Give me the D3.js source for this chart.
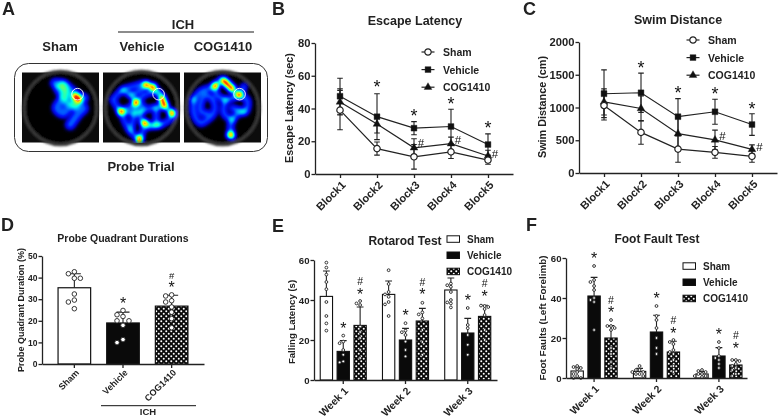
<!DOCTYPE html>
<html>
<head>
<meta charset="utf-8">
<script src="https://cdn.jsdelivr.net/npm/d3@7"></script>
<style>
  body { margin: 0; background: #fff; }
  svg { display: block; }
  text { font-family: "Liberation Sans", Arial, sans-serif; font-weight: bold; fill: #222; }
  .mark { font-weight: normal; fill: #111; }
  .axis path, .axis line { stroke: #222; stroke-width: 1.3; }
  .axis text { fill: #222; }
</style>
</head>
<body>
<svg id="chart" width="778" height="417"></svg>
<script>
const groups = ["Sham", "Vehicle", "COG1410"];
const blocks = ["Block1", "Block2", "Block3", "Block4", "Block5"];
const weeks = ["Week 1", "Week 2", "Week 3"];

// Panel A, tracks (in crop units)
const trailsSham = [
  [[105,40],[130,45],[150,60],[175,80],[190,85]],
  [[130,45],[135,75],[110,115],[130,130],[150,110],[190,115],[175,130],[150,165]],
  [[115,55],[140,90],[165,105]]
];
const hotSham = [[175,88,0.75],[175,88,0.55],[165,80,0.2]];
const trailsVehicle = [
  [[35,90],[65,60],[95,50],[125,42],[155,52],[185,85],[190,110],[215,130],[205,150],[175,165],[130,175],[115,205],[85,180],[60,130],[35,90]],
  [[60,125],[105,100],[130,75],[165,68],[185,85]],
  [[105,100],[100,130],[90,180]],
  [[60,125],[100,130],[150,115],[190,110]],
  [[125,105],[120,150],[150,165],[175,165]],
  [[165,115],[165,165]],
  [[65,60],[90,75],[125,55]],
  [[90,75],[105,100]]
];
const hotVehicle = [[155,52,0.6],[190,105,0.7],[183,90,0.35],[212,130,0.4],[115,207,0.35],[105,98,0.25],[60,125,0.12],[130,160,0.15],[135,45,0.15]];
const trailsCog = [
  [[35,90],[55,65],[95,50],[120,30],[150,55],[170,75],[195,90],[190,125],[170,130],[150,150],[145,170],[150,200]],
  [[185,50],[175,75]],
  [[35,90],[35,130],[55,160],[75,150],[95,130],[95,95],[70,75],[55,110],[60,130],[75,130]],
  [[95,50],[105,75],[130,90],[150,85],[170,75]],
  [[130,90],[125,130],[150,150]],
  [[150,115],[185,125]]
];
const hotCog = [[125,33,0.6],[135,43,0.7],[148,55,0.45],[170,75,0.3],[145,195,0.1],[100,48,0.15]];
const targetRing = [172, 73];

// Panel B
const latencySham = [39, 15.5, 10.5, 13.5, 8.5];
const latencyShamErr = [12, 4, 7.5, 4, 2.5];
const latencyVehicle = [47.5, 35, 28, 29, 18];
const latencyVehicleErr = [11, 14, 4, 10.5, 6.5];
const latencyCog = [44, 30.5, 16, 18.5, 11];
const latencyCogErr = [8, 5.5, 5.5, 4, 3.5];
const latencyStars = [null, 54.8, 37.3, 44.8, 30.1];
const latencyHash = [null, null, 19, 21, 12.6];

// Panel C
const distanceSham = [1030, 620, 365, 315, 255];
const distanceShamErr = [220, 180, 200, 90, 90];
const distanceVehicle = [1210, 1225, 860, 935, 740];
const distanceVehicleErr = [365, 300, 275, 190, 165];
const distanceCog = [1085, 985, 600, 505, 360];
const distanceCogErr = [200, 190, 240, 150, 70];
const distanceStars = [null, 1654, 1272, 1252, 1028];
const distanceHash = [null, null, null, 565, 392];

// Panel D
const probeMeans = [35.3, 19, 26.8];
const probeErr = [6.5, 5, 5];
const probePoints = [
  [42.7, 41.8, 39.7, 39.7, 32.4, 29.6, 28.7, 25.6],
  [24.8, 22.8, 22, 20, 20, 17.9, 11.3, 9.9],
  [32, 31.5, 29.3, 28.7, 26.4, 24, 21, 16.8]
];
const probeStars = [null, 29, 36.7];
const probeHash = [null, null, 41];

// Panel E
const rotarodSham = [41.8, 42.8, 45];
const rotarodShamErr = [12.7, 6.7, 6];
const rotarodVehicle = [14.3, 20, 23.5];
const rotarodVehicleErr = [5.4, 5.8, 7.3];
const rotarodCog = [27.3, 29.5, 31.8];
const rotarodCogErr = [9.2, 6.3, 5.6];
const rotarodPoints = [
  [[58.7,56.2,52.7,49,45.4,39,32,28.3,24.7], [22.2,19.2,18.4,15,12.6,9.3,8.8], [39.5,38.3,37.5,26.7,24,21,15,11]],
  [[54.9,48,44,42.8,41.6,39,37.8,32], [28.4,24.7,23.9,22.5,19.2,15,11.8], [38.6,33.8,32.8,30.8,25,19,12.6]],
  [[48.2,47.4,46.6,44,40,38.8,38.3,36.3], [36,27.5,25.9,22.5,17.6,12.6], [37,37.2,36.5,35.5,32.5,25,20]]
];
const rotarodStarsVehicle = [27.2, 33.3, 41];
const rotarodStarsCog = [44, 43.8, 42.8];
const rotarodHashCog = [49.6, 49, 48.3];

// Panel F
const faultSham = [3.5, 3.3, 2];
const faultShamErr = [2, 1.5, 1.2];
const faultVehicle = [41, 23, 11];
const faultVehicleErr = [9.3, 8.4, 4.2];
const faultCog = [20, 13, 6.5];
const faultCogErr = [6.2, 5.4, 2.4];
const faultPoints = [
  [[6,5.5,5,4.5,3,2,1,0,0], [56,49,48,46,44,40,39,38,24], [29,26,26,25,24,15,12,8,5]],
  [[6,4,4,3,3,2,2,1], [36,31,29,25,20,15,12], [19,18,17,14,13,12,9,6,3]],
  [[4,3.5,3,2,2,1,1,0.5], [18,15,11,10,9,7,5], [9,9,8.5,7,6,5,4,2,1]]
];
const faultStarsVehicle = [60.9, 40.8, 23];
const faultStarsCog = [34, 23.7, 16];
const faultHashCog = [39, 28.9, 21.2];

const svg = d3.select("#chart");
const defs = svg.append("defs");

const dots = defs.append("pattern").attr("id", "dots")
  .attr("width", 5).attr("height", 5).attr("patternUnits", "userSpaceOnUse");
dots.append("rect").attr("width", 5).attr("height", 5).attr("fill", "#0a0a0a");
dots.append("circle").attr("cx", 1.25).attr("cy", 1.25).attr("r", 1).attr("fill", "#fff");
dots.append("circle").attr("cx", 3.75).attr("cy", 3.75).attr("r", 1).attr("fill", "#fff");

const heatFilter = defs.append("filter").attr("id", "jet")
  .attr("x", "0").attr("y", "0").attr("width", "1").attr("height", "1")
  .attr("color-interpolation-filters", "sRGB");
heatFilter.append("feGaussianBlur").attr("stdDeviation", 1.9);
const jet = heatFilter.append("feComponentTransfer");
jet.append("feFuncR").attr("type", "table").attr("tableValues", "0 0 0 0 0 0.5 1 1 0.8");
jet.append("feFuncG").attr("type", "table").attr("tableValues", "0 0 0.1 0.55 1 1 0.9 0.2 0");
jet.append("feFuncB").attr("type", "table").attr("tableValues", "0 0.75 1 1 0.9 0.3 0 0 0");

const ringBlur = defs.append("filter").attr("id", "soft");
ringBlur.append("feGaussianBlur").attr("stdDeviation", 0.8);

const fill = { Sham: "#fff", Vehicle: "#0a0a0a", COG1410: "url(#dots)" };

drawPanelA();

drawLinePanel({
  left: 315, right: 513, top: 43, bottom: 174, max: 80, ticks: [0, 20, 40, 60, 80],
  series: [[latencySham, latencyShamErr], [latencyVehicle, latencyVehicleErr], [latencyCog, latencyCogErr]],
  stars: latencyStars, hash: latencyHash, hashDx: 7,
  legendX: 428, legendY: 52, title: "Escape Latency", titleX: 415, titleY: 25,
  yLabel: "Escape Latency (sec)", yLabelX: 293, yLabelY: 108, yLabelSize: 10.8
});

drawLinePanel({
  left: 579, right: 777, top: 42, bottom: 173, max: 2000, ticks: [0, 500, 1000, 1500, 2000],
  series: [[distanceSham, distanceShamErr], [distanceVehicle, distanceVehicleErr], [distanceCog, distanceCogErr]],
  stars: distanceStars, hash: distanceHash, hashDx: 7.5,
  legendX: 693, legendY: 40, title: "Swim Distance", titleX: 678, titleY: 24,
  yLabel: "Swim Distance (cm)", yLabelX: 546, yLabelY: 107, yLabelSize: 10.8
});

drawProbePanel();

drawWeekPanel({
  left: 314, right: 497, top: 260, bottom: 380, max: 60, pad: 0.1, pointR: 1.4,
  means: [rotarodSham, rotarodVehicle, rotarodCog],
  errs: [rotarodShamErr, rotarodVehicleErr, rotarodCogErr],
  points: rotarodPoints,
  starsVehicle: rotarodStarsVehicle, starsCog: rotarodStarsCog, hashCog: rotarodHashCog,
  legendX: 447, legendY: 239, title: "Rotarod Test", titleX: 405, titleY: 245,
  yLabel: "Falling Latency (s)", yLabelX: 295, yLabelY: 322, yLabelSize: 9.6
});

drawWeekPanel({
  left: 566, right: 747, top: 258, bottom: 378, max: 60, pad: 0.08, pointR: 1.4,
  means: [faultSham, faultVehicle, faultCog],
  errs: [faultShamErr, faultVehicleErr, faultCogErr],
  points: faultPoints,
  starsVehicle: faultStarsVehicle, starsCog: faultStarsCog, hashCog: faultHashCog,
  legendX: 683, legendY: 266, title: "Foot Fault Test", titleX: 657, titleY: 243,
  yLabel: "Foot Faults (Left Forelimb)", yLabelX: 546, yLabelY: 318, yLabelSize: 9.9
});

[["A", 2, 15], ["B", 272, 15], ["C", 523, 15], ["D", 1, 231], ["E", 272, 232], ["F", 526, 231]]
  .forEach(d => label(d[0], d[1], d[2], 18, "start"));

/////////////HELPERS//////////////////

function label(str, x, y, size, anchor) {
  return svg.append("text")
    .attr("x", x).attr("y", y)
    .attr("text-anchor", anchor || "middle")
    .style("font-size", size + "px")
    .text(str);
}

function rotatedLabel(str, x, y, size) {
  return label(str, 0, 0, size).attr("transform", `translate(${x},${y}) rotate(-90)`);
}

function star(x, y, size) {
  svg.append("text").attr("class", "mark")
    .attr("x", x).attr("y", y + size * 0.5)
    .attr("text-anchor", "middle")
    .style("font-size", size + "px")
    .text("*");
}

function hash(x, y, size) {
  svg.append("text").attr("class", "mark")
    .attr("x", x).attr("y", y + size * 0.36)
    .attr("text-anchor", "middle")
    .style("font-size", size + "px")
    .text("#");
}

function styleAxis(g, size) {
  g.attr("class", "axis");
  g.selectAll("text").style("font-size", size + "px");
}

function yAxis(scale, ticks, x, size) {
  const g = svg.append("g")
    .attr("transform", `translate(${x},0)`)
    .call(d3.axisLeft(scale).tickValues(ticks).tickFormat(d3.format("d"))
      .tickSize(3.5).tickPadding(1).tickSizeOuter(0));
  styleAxis(g, size);
}

function xAxis(scale, y, size, dx, dy) {
  const g = svg.append("g")
    .attr("transform", `translate(0,${y})`)
    .call(d3.axisBottom(scale).tickSize(4).tickSizeOuter(0));
  styleAxis(g, size);
  g.selectAll(".tick text")
    .attr("text-anchor", "end")
    .attr("x", 0).attr("y", 0).attr("dy", "0.35em")
    .attr("transform", `translate(${dx},${dy}) rotate(-45)`);
}

function errorBar(g, x, y0, y1, cap) {
  const path = d3.path();
  path.moveTo(x, y0); path.lineTo(x, y1);
  path.moveTo(x - cap, y1); path.lineTo(x + cap, y1);
  g.append("path").attr("d", path.toString())
    .attr("fill", "none").attr("stroke", "#222").attr("stroke-width", 1.1);
}

function drawPanelA() {
  label("ICH", 183, 29, 13);
  svg.append("line").attr("x1", 118).attr("x2", 254).attr("y1", 32).attr("y2", 32)
    .attr("stroke", "#666").attr("stroke-width", 1.4);
  label("Sham", 60, 51, 13);
  label("Vehicle", 142, 51, 13);
  label("COG1410", 223, 51, 13);
  label("Probe Trial", 141, 171, 13);
  svg.append("rect").attr("x", 14.5).attr("y", 63.5).attr("width", 253).attr("height", 88)
    .attr("rx", 14).attr("fill", "none").attr("stroke", "#333").attr("stroke-width", 1);

  heatMap(22, trailsSham, hotSham, 9);
  heatMap(103, trailsVehicle, hotVehicle, 5.5);
  heatMap(184, trailsCog, hotCog, 6);
}

function heatMap(x0, trails, hot, trailWidth) {
  const px = d3.scaleLinear().domain([6, 236]).range([x0, x0 + 77]);
  const py = d3.scaleLinear().domain([8, 218]).range([72.5, 142.5]);
  const g = svg.append("g");
  g.append("rect").attr("x", x0).attr("y", 72.5).attr("width", 77).attr("height", 70).attr("fill", "#0c0c0c");
  g.append("circle").attr("cx", x0 + 38.5).attr("cy", 108).attr("r", 36.5)
    .attr("fill", "#050505").attr("stroke", "#383838").attr("stroke-width", 3.5)
    .attr("filter", "url(#soft)");

  const heat = g.append("g").attr("filter", "url(#jet)").style("mix-blend-mode", "screen");
  heat.append("rect").attr("x", x0).attr("y", 72.5).attr("width", 77).attr("height", 70).attr("fill", "#000");
  const line = d3.line().x(d => px(d[0])).y(d => py(d[1])).curve(d3.curveCatmullRom);
  heat.selectAll("path.trail").data(trails).enter().append("path")
    .attr("class", "trail")
    .attr("d", line)
    .attr("fill", "none")
    .attr("stroke", "#fff").attr("stroke-opacity", 0.33)
    .attr("stroke-width", trailWidth)
    .attr("stroke-linecap", "round");
  heat.selectAll("circle").data(hot).enter().append("circle")
    .attr("cx", d => px(d[0])).attr("cy", d => py(d[1]))
    .attr("r", 3.4)
    .attr("fill", "#fff").attr("fill-opacity", d => d);

  g.append("circle").attr("cx", px(targetRing[0])).attr("cy", py(targetRing[1])).attr("r", 5.8)
    .attr("fill", "none").attr("stroke", "#fff").attr("stroke-width", 0.9);
}

function symbolFor(i) {
  if (i === 0) return d3.symbol().type(d3.symbolCircle).size(32)();
  if (i === 1) return d3.symbol().type(d3.symbolSquare).size(34)();
  return d3.symbol().type(d3.symbolTriangle).size(26)();
}

function drawLinePanel(o) {
  const x = d3.scalePoint().domain(blocks).range([o.left, o.right]).padding(0.676);
  const y = d3.scaleLinear().domain([0, o.max]).range([o.bottom, o.top]);
  yAxis(y, o.ticks, o.left, 11.2);
  xAxis(x, o.bottom, 11, 3, 9);
  label(o.title, o.titleX, o.titleY, 12.5);
  rotatedLabel(o.yLabel, o.yLabelX, o.yLabelY, o.yLabelSize);

  const g = svg.append("g");
  const line = d3.line().x((d, i) => x(blocks[i])).y(d => y(d));

  // error bars first so the markers sit over them
  [2, 1, 0].forEach(s => {
    const vals = o.series[s][0], errs = o.series[s][1];
    vals.forEach((v, i) => {
      errorBar(g, x(blocks[i]), y(v), y(v + errs[i]), 2.8);
      errorBar(g, x(blocks[i]), y(v), y(v - errs[i]), 2.8);
    });
    g.append("path").attr("d", line(vals))
      .attr("fill", "none").attr("stroke", "#222").attr("stroke-width", 1.2);
  });
  [2, 1, 0].forEach(s => {
    o.series[s][0].forEach((v, i) => marker(g, x(blocks[i]), y(v), s));
  });

  o.stars.forEach((v, i) => { if (v !== null) star(x(blocks[i]), y(v), 18); });
  o.hash.forEach((v, i) => { if (v !== null) hash(x(blocks[i]) + o.hashDx, y(v), 11.5); });

  groups.forEach((name, i) => {
    const ly = o.legendY + i * 17.6;
    g.append("line").attr("x1", o.legendX - 6.5).attr("x2", o.legendX + 6.5).attr("y1", ly).attr("y2", ly)
      .attr("stroke", "#222").attr("stroke-width", 1.2);
    marker(g, o.legendX, ly, i);
    label(name, o.legendX + 15, ly + 4, 10.5, "start");
  });
}

function marker(g, cx, cy, s) {
  g.append("path").attr("d", symbolFor(s))
    .attr("transform", `translate(${cx},${cy})`)
    .attr("fill", s === 0 ? "#fff" : "#111")
    .attr("stroke", "#222").attr("stroke-width", s === 0 ? 1.2 : 0.4);
}

// Prism style layout: sort of a beeswarm, points step sideways when they would touch
function dodge(values, y, r) {
  const placed = [];
  const step = r * 2.6;
  values.forEach(v => {
    const py = y(v);
    let offset = 0;
    for (const k of [0, -1, 1, -2, 2]) {
      offset = k * step;
      const hit = placed.some(p => Math.hypot(p.x - offset, p.y - py) < r * 2.1);
      if (!hit) break;
    }
    placed.push({ x: offset, y: py });
  });
  return placed;
}

function drawPoints(g, values, cx, y, r) {
  g.selectAll(null).data(dodge(values, y, r)).enter().append("circle")
    .attr("cx", d => cx + d.x).attr("cy", d => d.y).attr("r", r)
    .attr("fill", "#fff").attr("stroke", "#222").attr("stroke-width", 0.9);
}

function drawProbePanel() {
  const x = d3.scaleBand().domain(groups).range([42, 204]).padding(0.33);
  const y = d3.scaleLinear().domain([0, 50]).range([364, 256]);
  const g = svg.append("g");
  groups.forEach((name, i) => {
    g.append("rect").attr("x", x(name)).attr("y", y(probeMeans[i]))
      .attr("width", x.bandwidth()).attr("height", y(0) - y(probeMeans[i]))
      .attr("fill", fill[name]).attr("stroke", "#111").attr("stroke-width", 1.2);
    errorBar(g, x(name) + x.bandwidth() / 2, y(probeMeans[i]), y(probeMeans[i] + probeErr[i]), 6.5);
    drawPoints(g, probePoints[i], x(name) + x.bandwidth() / 2, y, 2.3);
    if (probeStars[i] !== null) star(x(name) + x.bandwidth() / 2, y(probeStars[i]), 16);
    if (probeHash[i] !== null) hash(x(name) + x.bandwidth() / 2, y(probeHash[i]), 9.5);
  });
  yAxis(y, [0, 10, 20, 30, 40, 50], 42, 8.5);
  xAxis(x, 364, 9, 3, 7);
  label("Probe Quadrant Durations", 123, 242, 10.5);
  rotatedLabel("Probe Quadrant Duration (%)", 24, 310, 9);
  svg.append("line").attr("x1", 101).attr("x2", 196).attr("y1", 405.7).attr("y2", 405.7)
    .attr("stroke", "#111").attr("stroke-width", 1);
  label("ICH", 148, 415, 9.5);
}

function drawWeekPanel(o) {
  const x = d3.scaleBand().domain(weeks).range([o.left, o.right])
    .paddingInner(0.26).paddingOuter(o.pad);
  const inner = d3.scaleBand().domain(groups).range([0, x.bandwidth()]).paddingInner(0.27);
  const y = d3.scaleLinear().domain([0, o.max]).range([o.bottom, o.top]);
  const g = svg.append("g");

  weeks.forEach((week, w) => {
    groups.forEach((name, s) => {
      const bx = x(week) + inner(name), mid = bx + inner.bandwidth() / 2;
      const v = o.means[s][w];
      g.append("rect").attr("x", bx).attr("y", y(v))
        .attr("width", inner.bandwidth()).attr("height", y(0) - y(v))
        .attr("fill", fill[name]).attr("stroke", "#111").attr("stroke-width", 1.1);
      errorBar(g, mid, y(v), y(v + o.errs[s][w]), 3.4);
      drawPoints(g, o.points[w][s], mid, y, o.pointR);
    });
    const midV = x(week) + inner("Vehicle") + inner.bandwidth() / 2;
    const midC = x(week) + inner("COG1410") + inner.bandwidth() / 2;
    star(midV, y(o.starsVehicle[w]), 16);
    star(midC, y(o.starsCog[w]), 16);
    hash(midC, y(o.hashCog[w]), 10.5);
  });

  yAxis(y, [0, 20, 40, 60], o.left, 9.6);
  xAxis(x, o.bottom, 10.5, 3, 9);
  label(o.title, o.titleX, o.titleY, 12);
  rotatedLabel(o.yLabel, o.yLabelX, o.yLabelY, o.yLabelSize);

  groups.forEach((name, i) => {
    const ly = o.legendY + i * 16.2;
    svg.append("rect").attr("x", o.legendX).attr("y", ly - 3.2).attr("width", 12.5).attr("height", 6.5)
      .attr("fill", fill[name]).attr("stroke", "#111").attr("stroke-width", 1);
    label(name, o.legendX + 20, ly + 4, 10, "start");
  });
}
</script>
</body>
</html>
